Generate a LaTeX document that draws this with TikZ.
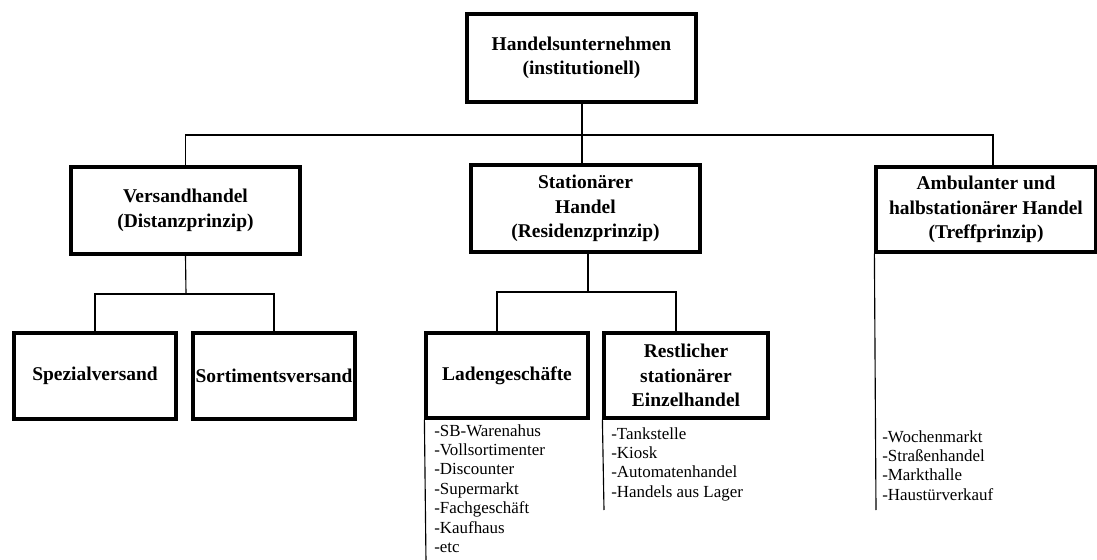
\documentclass[tikz,border=0pt]{standalone}
\usepackage{fontspec}
\setmainfont{Liberation Serif}

\tikzset{
  unitbox/.style={draw, line width=2.4pt, align=center, inner sep=0pt,
    font=\fontsize{14.6}{18.4}\selectfont\bfseries},
  itemlist/.style={anchor=north west, align=left, inner sep=0pt,
    font=\fontsize{12.7}{14.6}\selectfont},
  link/.style={line width=0.85pt}
}

\begin{document}
\begin{tikzpicture}[x=0.75pt,y=0.75pt,yscale=-1]
\useasboundingbox (0,0) rectangle (1097,560);

%Shape: Rectangle [top]
\node [unitbox, minimum width=171.75pt, minimum height=66pt] (handel) at (581.5,58) {Handelsunternehmen\\(institutionell)};
%Shape: Rectangle [level 1]
\node [unitbox, minimum width=171.75pt, minimum height=65.25pt] (versand) at (185.5,210.5) {Versandhandel\\(Distanzprinzip)};
\node [unitbox, minimum width=171.75pt, minimum height=65.25pt] (station) at (585.5,208.5) {Station\"arer\\Handel\\(Residenzprinzip)};
\node [unitbox, minimum width=165pt, minimum height=63.75pt] (ambulant) at (986,209.5) {Ambulanter und\\halbstation\"arer Handel\\(Treffprinzip)};
%Shape: Rectangle [level 2]
\node [unitbox, minimum width=121.5pt, minimum height=64.5pt] (spezial) at (95,376) {Spezialversand};
\node [unitbox, minimum width=121.5pt, minimum height=64.5pt] (sortiment) at (274,376) {Sortimentsversand};
\node [unitbox, minimum width=121.5pt, minimum height=63.75pt] (laden) at (507,375.5) {Ladengesch\"afte};
\node [unitbox, minimum width=123pt, minimum height=63.75pt] (rest) at (686,375.5) {Restlicher\\station\"arer\\Einzelhandel};

%Straight Lines: bus lines
\coordinate (mainbus) at (582,135);
\coordinate (versbus) at (186,294);
\coordinate (statbus) at (588,292);
\draw [link] (handel.south -| mainbus) -- (mainbus);
\draw [link] (versand.north) |- (mainbus) -| ([xshift=5.25pt]ambulant.north);
\draw [link] (mainbus) -- (mainbus |- station.north);
\draw [link] (versand.south) -- (versbus);
\draw [link] (spezial.north) |- (versbus) -| (sortiment.north);
\draw [link] (station.south -| statbus) -- (statbus);
\draw [link] ([xshift=-7.5pt]laden.north) |- (statbus) -| ([xshift=-7.5pt]rest.north);

%Straight Lines: list rules
\coordinate (ladenend) at (426,562);
\coordinate (restend) at (604,510);
\coordinate (ambend) at (876,510);
\draw [link] (laden.south west) -- (ladenend);
\draw [link] (rest.south west) -- (restend);
\draw [link] (ambulant.south west) -- (ambend);

% Text Node
\node [itemlist] (ladenlist) at (434,424) {-SB-Warenahus\\-Vollsortimenter\\-Discounter\\-Supermarkt\\-Fachgesch\"aft\\-Kaufhaus\\-etc};
% Text Node
\node [itemlist] (restlist) at (611,427) {-Tankstelle\\-Kiosk\\-Automatenhandel\\-Handels aus Lager};
% Text Node
\node [itemlist] (ambulist) at (882,430) {-Wochenmarkt\\-Stra\ss enhandel\\-Markthalle\\-Haust\"urverkauf};

\end{tikzpicture}
\end{document}
